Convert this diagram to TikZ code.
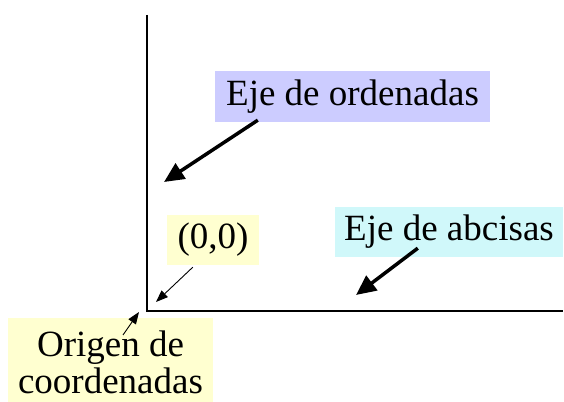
\documentclass[tikz,border=0pt]{standalone}
\usepackage{fontspec}
\setmainfont{Liberation Serif}
\usetikzlibrary{arrows.meta}
\definecolor{lyellow}{HTML}{FFFFD0}
\definecolor{lblue}{HTML}{CCCCFF}
\definecolor{lcyan}{HTML}{D0F8FA}
\begin{document}
\begin{tikzpicture}[x=1pt,y=1pt,
  lab/.style={inner sep=0pt, font=\fontsize{37}{37}\selectfont},
  axisline/.style={line width=1.2pt},
  bigarrow/.style={line width=3.5pt, -{Triangle[length=20pt,width=18pt]}},
  smallarrow/.style={line width=0.9pt, -{Triangle[length=12pt,width=9pt]}}]
\useasboundingbox (0,0) rectangle (564,401);
\coordinate (top) at (147,386);
\coordinate (O) at (147,90);
\coordinate (xend) at (563,90);
\draw[axisline] (top) -- (O) -- (xend);

\node[lab, fill=lblue, minimum width=275pt, minimum height=51pt] (ord) at (352.5,304.5) {Eje de ordenadas};
\node[lab, fill=lcyan, minimum width=228pt, minimum height=50pt] (abs) at (449,169) {Eje de abcisas};
\node[lab, fill=lyellow, minimum width=92pt, minimum height=50pt] (zero) at (213,161) {(0,0)};
\node[lab, fill=lyellow, minimum width=205pt, inner ysep=13pt, align=center, anchor=north] (orig) at (110.5,83) {Origen de\\coordenadas};

\coordinate (ordtip) at (164,219);
\coordinate (abstip) at (356,106);
\coordinate (zerotip) at (156,99);
\coordinate (origtip) at (139,89);

\draw[bigarrow] ([shift={(43,2)}]ord.south west) -- (ordtip);
\draw[bigarrow] ([shift={(83,9)}]abs.south west) -- (abstip);
\draw[smallarrow] ([shift={(26,-2)}]zero.south west) -- (zerotip);
\draw[smallarrow] ([shift={(12.5,-17)}]orig.north) -- (origtip);
\end{tikzpicture}
\end{document}
